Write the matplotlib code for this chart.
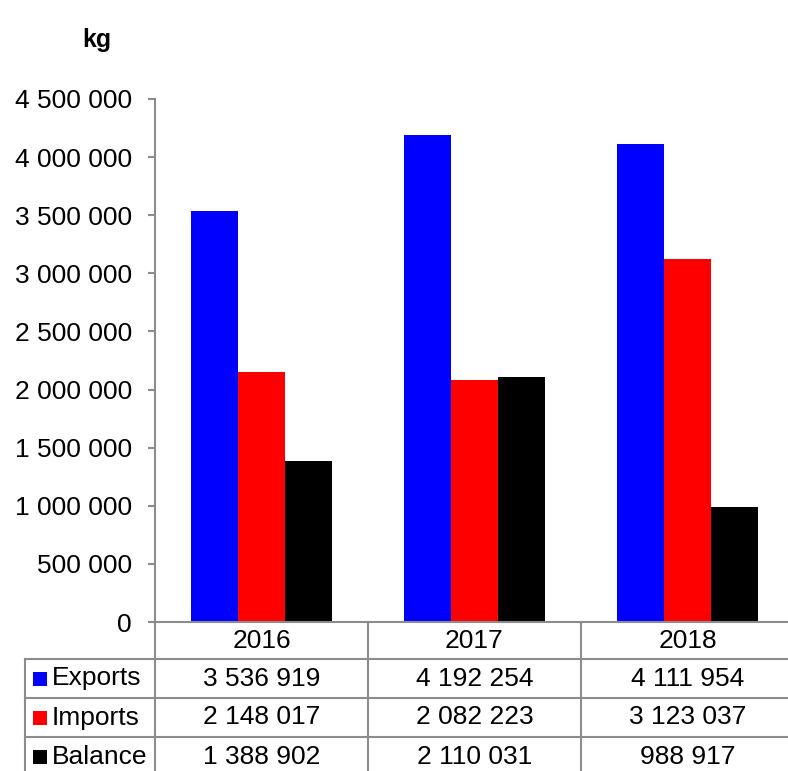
import numpy as np
import matplotlib.pyplot as plt
from matplotlib.lines import Line2D
from matplotlib.patches import Rectangle

plt.rcParams['font.family'] = ['Liberation Sans', 'DejaVu Sans']

years = ['2016', '2017', '2018']
series_names = ['Exports', 'Imports', 'Balance']
exports = [3536919, 4192254, 4111954]
imports = [2148017, 2082223, 3123037]
balance = [1388902, 2110031, 988917]
colors = ['#0000ff', '#ff0000', '#000000']
y_ticks = np.arange(0, 4500001, 500000)

W, H = 788, 771
fig = plt.figure(figsize=(W / 100, H / 100), dpi=100)


def fx(px):
    return px / W


def fy(py):
    return 1 - py / H


# plot area (pixel coordinates of the frame)
left, right, top, bottom = 155, 794, 99, 622
ax = fig.add_axes([fx(left), fy(bottom), fx(right - left), fy(top) - fy(bottom)])

x = np.arange(len(years))
bw = 0.2222
for i, (vals, c) in enumerate(zip([exports, imports, balance], colors)):
    ax.bar(x + (i - 1) * bw, vals, width=bw, color=c, linewidth=0)

ax.set_xlim(-0.5, len(years) - 0.5)
ax.set_ylim(0, 4500000)
ax.set_yticks(y_ticks)
ax.set_yticklabels([f'{v:,}'.replace(',', ' ') for v in y_ticks], fontsize=19)
ax.set_xticks([])
for s in ['top', 'right']:
    ax.spines[s].set_visible(False)
for s in ['left', 'bottom']:
    ax.spines[s].set_color('#8c8c8c')
    ax.spines[s].set_linewidth(1.5)
ax.tick_params(axis='y', length=5, width=1.5, color='#8c8c8c', pad=11.5)

fig.text(fx(97), fy(40), 'kg', fontsize=18, fontweight='bold', ha='center', va='center')

# data table under the plot
line_kw = dict(color='#8c8c8c', linewidth=1.5, transform=fig.transFigure)
col_w = (right - left) / len(years)
col_edges = [left + k * col_w for k in range(len(years) + 1)]
row_edges = [622, 659, 698, 737, 776]
tab_left = 25

for xe in col_edges:
    fig.add_artist(Line2D([fx(xe), fx(xe)], [fy(622), fy(776)], **line_kw))
fig.add_artist(Line2D([fx(tab_left), fx(tab_left)], [fy(659), fy(776)], **line_kw))
for ye in row_edges[1:]:
    fig.add_artist(Line2D([fx(tab_left), fx(right)], [fy(ye), fy(ye)], **line_kw))

for j, yr in enumerate(years):
    cx = (col_edges[j] + col_edges[j + 1]) / 2
    fig.text(fx(cx), fy((row_edges[0] + row_edges[1]) / 2), yr,
             fontsize=19, ha='center', va='center')

for i, (name, vals, c) in enumerate(zip(series_names, [exports, imports, balance], colors)):
    cy = (row_edges[i + 1] + row_edges[i + 2]) / 2
    fig.add_artist(Rectangle((fx(33), fy(cy + 7)), fx(14), fy(cy - 7) - fy(cy + 7),
                             facecolor=c, edgecolor='none', transform=fig.transFigure))
    fig.text(fx(52), fy(cy), name, fontsize=19, ha='left', va='center')
    for j, v in enumerate(vals):
        cx = (col_edges[j] + col_edges[j + 1]) / 2
        fig.text(fx(cx), fy(cy), f'{v:,}'.replace(',', ' '),
                 fontsize=19, ha='center', va='center')

fig.savefig('out.png', dpi=100)
